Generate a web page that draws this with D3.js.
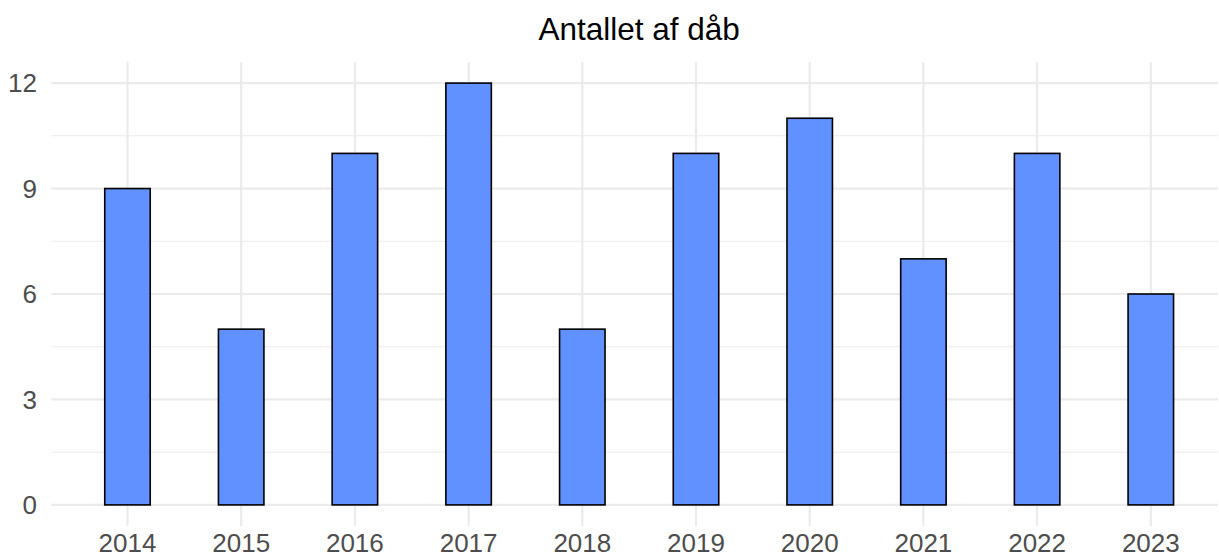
<!DOCTYPE html>
<html><head><meta charset="utf-8">
<script src="https://cdn.jsdelivr.net/npm/d3@7"></script>
<style>body{margin:0;background:#fff;} svg{display:block;}</style>
</head><body>
<svg id="c" width="1219" height="558"></svg>
<script>
const years = [2014,2015,2016,2017,2018,2019,2020,2021,2022,2023];
const counts = [9,5,10,12,5,10,11,7,10,6];
const yTicks = [0,3,6,9,12];
const yMinor = [1.5,4.5,7.5,10.5];
const title = "Antallet af dåb";

const W = 1219, H = 558;
const svg = d3.select("#c");
const pL = 51.3, pR = 1227, pT = 62, pB = 526;
const barW = 0.4;
const xmin = d3.min(years) - barW/2, xmax = d3.max(years) + barW/2;
const xpad = (xmax - xmin) * 0.05;
const x = d3.scaleLinear().domain([xmin - xpad, xmax + xpad]).range([pL, pR]);
const ymax = d3.max(counts), ypad = ymax * 0.05;
const y = d3.scaleLinear().domain([-ypad, ymax + ypad]).range([pB, pT]);

const gx0 = pL, gx1 = Math.min(pR, W - 1);
// minor horizontal grid
svg.append("g").selectAll("line").data(yMinor).join("line")
  .attr("x1", gx0).attr("x2", gx1).attr("y1", d => y(d)).attr("y2", d => y(d))
  .attr("stroke", "#ebebeb").attr("stroke-width", 1.1);
// major horizontal grid
svg.append("g").selectAll("line").data(yTicks).join("line")
  .attr("x1", gx0).attr("x2", gx1).attr("y1", d => y(d)).attr("y2", d => y(d))
  .attr("stroke", "#ebebeb").attr("stroke-width", 2.2);
// vertical grid
svg.append("g").selectAll("line").data(years).join("line")
  .attr("x1", d => x(d)).attr("x2", d => x(d)).attr("y1", pT).attr("y2", pB)
  .attr("stroke", "#ebebeb").attr("stroke-width", 2.2);

// bars
svg.append("g").selectAll("rect").data(years).join("rect")
  .attr("x", d => x(d - barW/2))
  .attr("width", d => x(d + barW/2) - x(d - barW/2))
  .attr("y", (d,i) => y(counts[i]))
  .attr("height", (d,i) => y(0) - y(counts[i]))
  .attr("fill", "#6190ff").attr("stroke", "#000").attr("stroke-width", 1.6);

// y axis labels
svg.append("g").selectAll("text").data(yTicks).join("text")
  .attr("x", 37).attr("y", d => y(d)).attr("dy", "0.36em")
  .attr("text-anchor", "end")
  .attr("font-family", "Liberation Sans, Arial, sans-serif").attr("font-size", 26)
  .attr("fill", "#4d4d4d").text(d => d);

// x axis labels
svg.append("g").selectAll("text").data(years).join("text")
  .attr("x", d => x(d)).attr("y", 552)
  .attr("text-anchor", "middle")
  .attr("font-family", "Liberation Sans, Arial, sans-serif").attr("font-size", 26)
  .attr("fill", "#4d4d4d").text(d => d);

// title
svg.append("text").attr("x", (pL + pR)/2).attr("y", 40)
  .attr("text-anchor", "middle")
  .attr("font-family", "Liberation Sans, Arial, sans-serif").attr("font-size", 31.5)
  .attr("fill", "#000").text(title);
</script>
</body></html>
